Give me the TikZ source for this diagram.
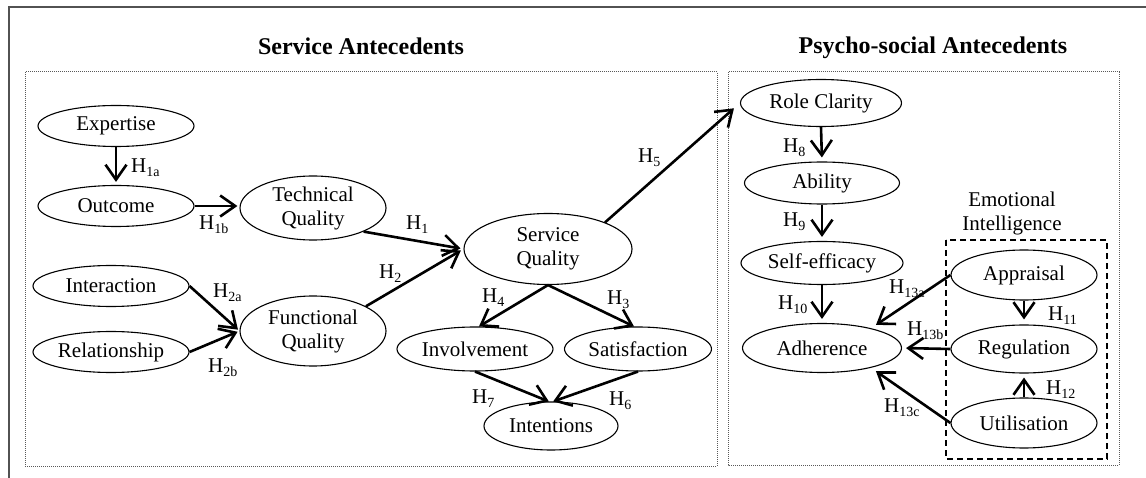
\documentclass[tikz,border=0pt]{standalone}
\usepackage{fontspec}
\setmainfont{Liberation Serif}
\usetikzlibrary{shapes.geometric,arrows.meta,calc}
\newcommand\Hlab[1]{H\raisebox{-4pt}{\fontsize{14}{14}\selectfont #1}}
\begin{document}
\begin{tikzpicture}[x=1pt,y=-1pt,
  font=\fontsize{21}{24}\selectfont,
  ell/.style={ellipse,draw,line width=1.1pt,inner sep=0pt,align=center},
  arr/.style={line width=2.6pt,-{Straight Barb[length=15pt,width=21pt]}},
  hl/.style={anchor=base west,inner sep=0pt},
  frame/.style={draw=black!68,line width=2pt},
  group/.style={draw=black!65,line width=1pt,densely dotted},
  eibox/.style={draw,line width=1.1pt,dash pattern=on 6pt off 4pt},
  title/.style={font=\fontsize{24}{28}\selectfont\bfseries,anchor=base}]
\useasboundingbox (0,0) rectangle (1146,478);
% outer frame (open at right and bottom)
\draw[frame] (9,478) -- (9,7) -- (1146,7);
% group boxes
\draw[group] (25,72) rectangle (717,466);
\draw[group] (728,72) rectangle (1119,465);
\draw[eibox] (946,240) rectangle (1107,459);
% titles
\node[title] (t1) at (361,55) {Service Antecedents};
\node[title] (t2) at (933,54) {Psycho-social Antecedents};
\node[align=center,inner sep=0pt] (ei) at (1012,213) {Emotional\\Intelligence};
% nodes
\node[ell,minimum width=156pt,minimum height=41pt] (exp) at (116,126) {Expertise};
\node[ell,minimum width=156pt,minimum height=41pt] (out) at (116,206) {Outcome};
\node[ell,minimum width=146pt,minimum height=64pt] (tq) at (313,208) {Technical\\Quality};
\node[ell,minimum width=156pt,minimum height=41pt] (int) at (111,286) {Interaction};
\node[ell,minimum width=156pt,minimum height=41pt] (rel) at (111,352) {Relationship};
\node[ell,minimum width=146pt,minimum height=70pt] (fq) at (313,331) {Functional\\Quality};
\node[ell,minimum width=168pt,minimum height=71pt] (sq) at (548,249) {Service\\Quality};
\node[ell,minimum width=156pt,minimum height=44pt] (inv) at (475,349) {Involvement};
\node[ell,minimum width=147pt,minimum height=44pt] (sat) at (638,349) {Satisfaction};
\node[ell,minimum width=134pt,minimum height=48pt] (itn) at (551,426) {Intentions};
\node[ell,minimum width=161pt,minimum height=47pt] (rc) at (821,103) {Role Clarity};
\node[ell,minimum width=155pt,minimum height=42pt] (ab) at (822,183) {Ability};
\node[ell,minimum width=162pt,minimum height=43pt] (se) at (822,263) {Self-efficacy};
\node[ell,minimum width=159pt,minimum height=49pt] (adh) at (822,348) {Adherence};
\node[ell,minimum width=146pt,minimum height=50pt] (app) at (1024,275) {Appraisal};
\node[ell,minimum width=146pt,minimum height=48pt] (reg) at (1024,349) {Regulation};
\node[ell,minimum width=146pt,minimum height=50pt] (uti) at (1024,423) {Utilisation};
% connectors
\draw[arr,shorten >=3pt] (exp.south) -- (out.north);
\draw[arr,shorten >=2pt] (out.east) -- (out.east -| tq.west);
\draw[arr,shorten >=3pt] (tq.-25) -- (sq.west);
\draw[arr,shorten >=3pt] (fq.25) -- (sq.west);
\draw[arr,shorten >=2pt] (int.east) -- (fq.west);
\draw[arr,shorten >=2pt] (rel.east) -- (fq.west);
\draw[arr] (sq.south) -- (inv.80);
\draw[arr] (sq.south) -- (sat.100);
\draw[arr] (inv.south) -- (itn.95);
\draw[arr] (sat.south) -- (itn.85);
\draw[arr,shorten >=8pt] (sq.25) -- (rc.west);
\draw[arr,shorten >=4pt] (rc.south) -- (ab.north);
\draw[arr,shorten >=4pt] (ab.south) -- (se.north);
\draw[arr,shorten >=4pt] (se.south) -- (adh.north);
\draw[arr,shorten >=6pt] (app.west) -- (adh.22);
\draw[arr,shorten >=4pt] (reg.west) -- (adh.east);
\draw[arr,shorten >=6pt] (uti.west) -- (adh.-22);
\draw[arr,shorten >=5pt] (app.south) -- (reg.north);
\draw[arr,shorten >=4pt] (uti.north) -- (reg.south);
% labels
\node[hl] (h1a) at (131,173) {\Hlab{1a}};
\node[hl] (h1b) at (199,230) {\Hlab{1b}};
\node[hl] (h2a) at (213,298) {\Hlab{2a}};
\node[hl] (h2b) at (208,372) {\Hlab{2b}};
\node[hl] (h2) at (379,279) {\Hlab{2}};
\node[hl] (h1) at (406,230) {\Hlab{1}};
\node[hl] (h5) at (638,163) {\Hlab{5}};
\node[hl] (h4) at (482,303) {\Hlab{4}};
\node[hl] (h3) at (607,305) {\Hlab{3}};
\node[hl] (h7) at (472,403) {\Hlab{7}};
\node[hl] (h6) at (609,405) {\Hlab{6}};
\node[hl] (h8) at (783,153) {\Hlab{8}};
\node[hl] (h9) at (783,227) {\Hlab{9}};
\node[hl] (h10) at (778,310) {\Hlab{10}};
\node[hl] (h13a) at (889,294) {\Hlab{13a}};
\node[hl] (h13b) at (907,336) {\Hlab{13b}};
\node[hl] (h13c) at (884,412) {\Hlab{13c}};
\node[hl] (h11) at (1048,320) {\Hlab{11}};
\node[hl] (h12) at (1046,394) {\Hlab{12}};
\end{tikzpicture}
\end{document}
